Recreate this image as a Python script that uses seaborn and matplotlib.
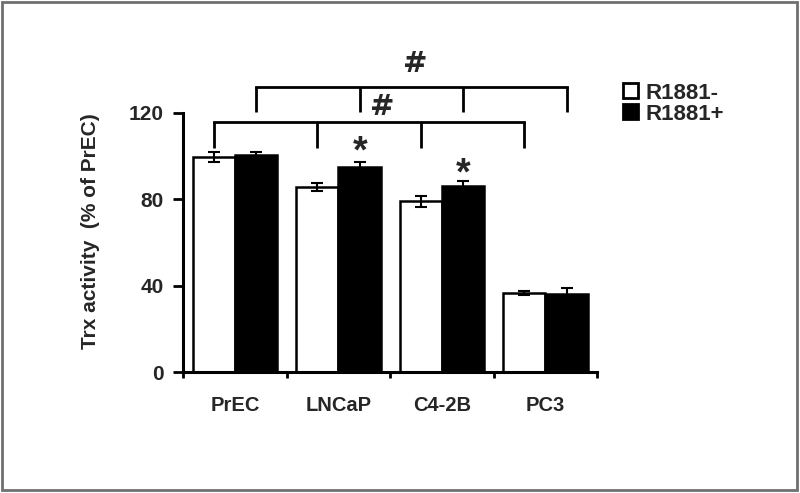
import matplotlib
matplotlib.use("Agg")
import matplotlib.pyplot as plt
import matplotlib.patches as mpatches
import seaborn as sns
import pandas as pd

# values
cells = ["PrEC", "LNCaP", "C4-2B", "PC3"]
groups = ["R1881-", "R1881+"]
minus_vals = [99.8, 85.8, 79.0, 36.7]
minus_err = [2.3, 1.9, 2.5, 1.0]
plus_vals = [100.5, 95.1, 86.2, 36.1]
plus_err = [1.6, 2.2, 2.5, 2.7]
y_ticks = [0, 40, 80, 120]

df = pd.DataFrame({
    "cell": cells * 2,
    "group": [groups[0]] * 4 + [groups[1]] * 4,
    "activity": minus_vals + plus_vals,
})

sns.set_theme(style="white")
plt.rcParams["font.family"] = ["Liberation Sans", "DejaVu Sans"]
plt.rcParams["font.weight"] = "bold"

fig = plt.figure(figsize=(8, 4.93), dpi=100)
ax = fig.add_axes([0.229, 0.2454, 0.5175, 0.5254])

sns.barplot(data=df, x="cell", y="activity", hue="group", order=cells,
            hue_order=groups, palette=["white", "black"], edgecolor="black",
            linewidth=1.8, width=0.82, gap=0, errorbar=None, ax=ax)

# error bars on top of each bar
for cont, errs in zip(ax.containers, [minus_err, plus_err]):
    for bar, e in zip(cont, errs):
        ax.errorbar(bar.get_x() + bar.get_width() / 2, bar.get_height(), yerr=e,
                    color="black", capsize=4, elinewidth=1.5, capthick=1.5,
                    clip_on=False, zorder=5)

ax.set_xlim(-0.5, 3.5)
ax.set_ylim(0, 120)
ax.set_yticks(y_ticks)
ax.set_yticklabels([str(t) for t in y_ticks], fontsize=15, fontweight="bold")
ax.set_xticks([-0.5, 0.5, 1.5, 2.5, 3.5])
ax.set_xticklabels([])
ax.set_xticks(range(len(cells)), minor=True)
ax.set_xticklabels(cells, minor=True, fontsize=14.5, fontweight="bold")
ax.tick_params(axis="x", which="major", direction="out", length=4.5, width=2,
               color="black", bottom=True)
ax.tick_params(axis="x", which="minor", length=0, pad=17)
ax.tick_params(axis="y", direction="out", length=7, width=2, color="black",
               left=True, pad=7)
ax.set_xlabel("")
ax.set_ylabel("Trx activity  (% of PrEC)", fontsize=15, fontweight="bold")
ax.yaxis.set_label_coords(-0.2, 0.545)
for side in ["top", "right"]:
    ax.spines[side].set_visible(False)
for side in ["left", "bottom"]:
    ax.spines[side].set_linewidth(2.2)
    ax.spines[side].set_color("black")

# significance brackets
white_x = [b.get_x() + b.get_width() / 2 for b in ax.containers[0]]
black_x = [b.get_x() + b.get_width() / 2 for b in ax.containers[1]]


def bracket(xs, y_top, y_low):
    ax.plot([xs[0], xs[-1]], [y_top, y_top], color="black", lw=2,
            clip_on=False, solid_capstyle="projecting")
    for x in xs:
        ax.plot([x, x], [y_low, y_top], color="black", lw=2, clip_on=False,
                solid_capstyle="butt")


bracket(white_x, 116, 103.6)
bracket(black_x, 132, 120.6)
ax.text(1.42, 123, "#", ha="center", va="center", fontsize=21,
        fontweight="bold", family="DejaVu Sans", clip_on=False)
ax.text(1.74, 142.5, "#", ha="center", va="center", fontsize=21,
        fontweight="bold", family="DejaVu Sans", clip_on=False)
ax.text(black_x[1], 101.5, "*", ha="center", va="center", fontsize=27,
        fontweight="bold")
ax.text(black_x[2], 91.5, "*", ha="center", va="center", fontsize=27,
        fontweight="bold")

# legend
ax.get_legend().remove()
handles = [mpatches.Patch(facecolor="white", edgecolor="black", lw=2),
           mpatches.Patch(facecolor="black", edgecolor="black", lw=2)]
fig.legend(handles, groups, loc="upper left", bbox_to_anchor=(0.765, 0.855),
           frameon=False, handlelength=0.65, handleheight=0.65,
           handletextpad=0.35, labelspacing=0.0, borderpad=0,
           prop={"weight": "bold", "size": 16})

# gray frame around the picture
fig.patches.append(mpatches.Rectangle((0.003, 0.006), 0.993, 0.99,
                                      transform=fig.transFigure, fill=False,
                                      edgecolor="#707070", lw=2))

fig.savefig("out.png", dpi=100)
